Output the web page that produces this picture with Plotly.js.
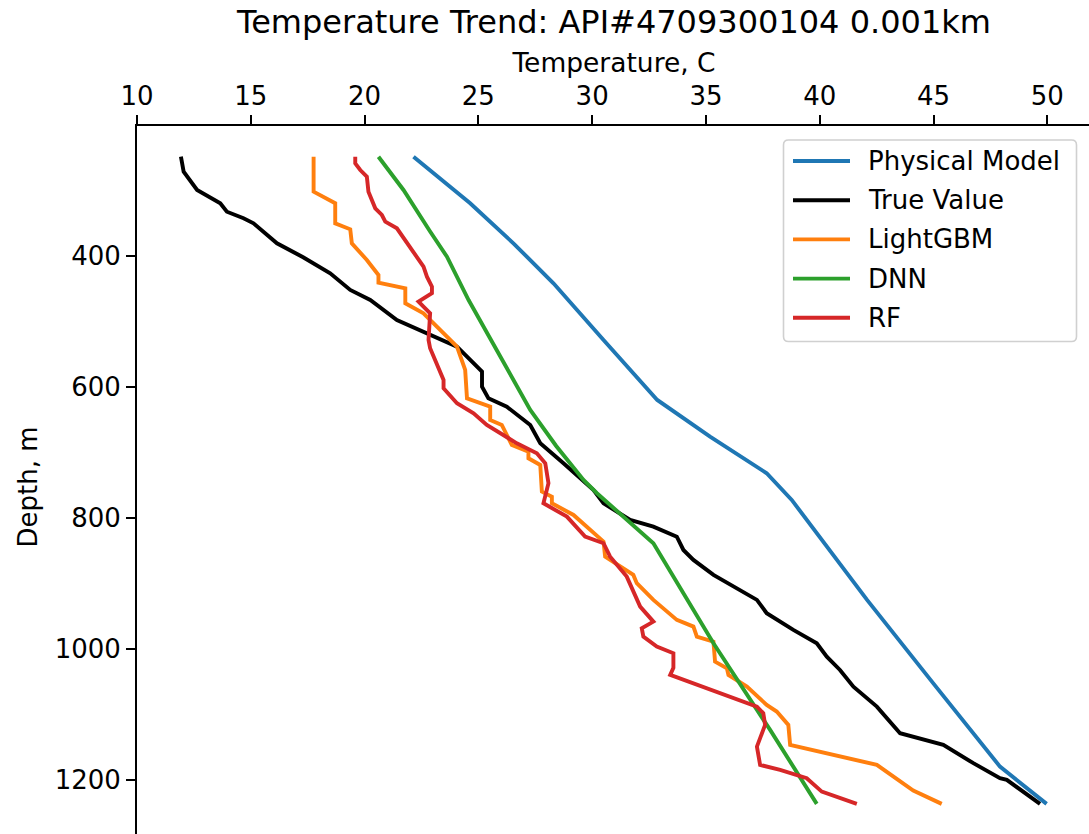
<!DOCTYPE html>
<html>
<head>
<meta charset="utf-8">
<script src="https://cdn.plot.ly/plotly-3.0.1.min.js"></script>
<style>
  html, body { margin: 0; padding: 0; overflow: hidden; background: #ffffff; }
  #chart { width: 1091px; height: 848px; }
</style>
</head>
<body>
<div id="chart"></div>
<script>
// Temperature (C) against depth (m) for each estimate along the well
const physicalTemp  = [22.15, 24.64, 26.54, 28.30, 30.50, 32.86, 35.18, 37.67, 38.77, 40.45, 42.08, 45.00, 47.92, 49.97];
const physicalDepth = [248.4, 319.5, 380.6, 441.7, 528.2, 619.8, 675.9, 731.8, 772.5, 848.9, 925.2, 1053.0, 1179.7, 1236.6];

const trueTemp  = [11.93, 12.05, 12.64, 13.66, 13.95, 14.68, 15.12, 16.15, 17.30, 18.49, 19.37, 20.25, 21.42, 22.74, 24.06,
                   25.16, 25.16, 25.44, 26.25, 27.28, 27.72, 28.74, 30.06, 30.50, 31.67, 32.69, 33.72, 34.01, 34.45,
                   35.33, 37.24, 37.67, 38.84, 39.87, 40.31, 40.89, 41.48, 42.51, 43.38, 43.53, 45.43, 46.75, 47.92,
                   48.22, 49.68];
const trueDepth = [248.4, 271.3, 299.2, 319.5, 332.4, 342.4, 350.1, 380.6, 402.0, 426.4, 451.9, 467.2, 497.7, 518.0, 538.5,
                   576.6, 599.5, 617.3, 630.1, 658.0, 686.0, 716.5, 757.3, 777.6, 803.1, 813.3, 828.6, 848.9, 864.1,
                   887.0, 925.2, 945.5, 971.0, 991.3, 1011.8, 1032.1, 1057.6, 1088.1, 1123.7, 1128.7, 1146.6, 1174.5, 1197.4,
                   1200.0, 1236.6];

const lgbmTemp  = [17.76, 17.76, 18.71, 18.71, 19.37, 19.44, 20.10, 20.61, 20.61, 21.79, 21.79, 22.59, 24.06, 24.42, 24.50,
                   25.52, 25.52, 26.03, 26.47, 27.20, 27.20, 27.72, 27.79, 28.23, 28.23, 29.18, 30.50, 30.57, 31.81,
                   31.96, 32.69, 33.72, 34.45, 34.60, 35.33, 35.40, 35.92, 35.99, 36.80, 37.67, 38.11, 38.62, 38.70,
                   42.51, 44.11, 45.36];
const lgbmDepth = [248.4, 301.8, 319.5, 350.1, 359.2, 380.6, 406.1, 429.0, 440.8, 449.3, 472.2, 487.5, 538.5, 574.0, 617.3,
                   630.1, 650.4, 658.0, 688.5, 698.8, 708.9, 719.1, 759.8, 767.5, 777.6, 795.4, 836.2, 859.1, 887.0,
                   899.7, 925.2, 955.7, 965.9, 981.2, 988.9, 1019.4, 1029.5, 1039.7, 1057.6, 1085.5, 1095.7, 1116.0, 1146.6,
                   1177.1, 1216.3, 1236.6];

const dnnTemp  = [20.61, 21.71, 22.88, 23.62, 24.57, 25.55, 27.28, 28.42, 29.62, 30.21, 31.67, 32.69, 35.33, 37.82, 39.87];
const dnnDepth = [248.4, 299.2, 362.6, 401.1, 467.2, 528.2, 635.1, 690.1, 742.0, 762.3, 808.1, 838.6, 991.3, 1123.7, 1236.6];

const rfTemp  = [19.59, 19.59, 19.81, 20.10, 20.17, 20.47, 20.76, 20.91, 21.42, 21.86, 22.59, 22.74, 22.96, 22.96, 22.37,
                 22.88, 22.81, 22.88, 23.47, 23.47, 24.06, 24.79, 25.37, 26.69, 27.57, 27.94, 28.08, 27.86, 28.89,
                 29.69, 30.50, 30.79, 31.52, 32.11, 32.69, 32.18, 32.25, 32.84, 33.57, 33.57, 33.43, 37.24, 37.52,
                 37.60, 37.24, 37.38, 38.26, 39.43, 40.09, 41.63];
const rfDepth = [248.4, 258.5, 268.7, 278.9, 301.8, 327.2, 337.4, 347.6, 357.7, 380.6, 416.3, 431.6, 446.9, 456.9, 469.8,
                 487.5, 528.2, 540.9, 589.3, 602.0, 624.9, 640.2, 658.0, 686.0, 701.2, 716.5, 747.0, 777.6, 798.0,
                 828.5, 838.6, 859.1, 889.6, 935.4, 958.3, 968.4, 981.2, 996.5, 1006.6, 1029.0, 1039.7, 1088.1, 1098.2,
                 1116.0, 1149.2, 1177.1, 1184.7, 1197.4, 1217.9, 1236.6];

const xTicks = [10, 15, 20, 25, 30, 35, 40, 45, 50];
const yTicks = [400, 600, 800, 1000, 1200];

const FONT = 'DejaVu Sans, sans-serif';
const LW = 3.9;

// figure geometry (px)
const W = 1091, H = 848;
const M = { l: 137, r: 0, t: 126, b: 0 };
const PW = W - M.l - M.r, PH = H - M.t - M.b;
const px2x = px => (px - M.l) / PW;
const py2y = py => 1 - (py - M.t) / PH;

function series(name, x, y, color) {
  return {
    type: 'scatter', mode: 'lines', name: name, x: x, y: y,
    line: { color: color, width: LW }, hoverinfo: 'skip', showlegend: false
  };
}

const traces = [
  series('Physical Model', physicalTemp, physicalDepth, '#1f77b4'),
  series('True Value', trueTemp, trueDepth, '#000000'),
  series('LightGBM', lgbmTemp, lgbmDepth, '#ff7f0e'),
  series('DNN', dnnTemp, dnnDepth, '#2ca02c'),
  series('RF', rfTemp, rfDepth, '#d62728')
];

// legend frame with rounded corners, drawn in paper coordinates
function roundedRect(x0, y0, x1, y1, r) {
  const P = (a, b) => px2x(a) + ',' + py2y(b);
  return 'M' + P(x0 + r, y0) + ' L' + P(x1 - r, y0) + ' Q' + P(x1, y0) + ' ' + P(x1, y0 + r) +
         ' L' + P(x1, y1 - r) + ' Q' + P(x1, y1) + ' ' + P(x1 - r, y1) +
         ' L' + P(x0 + r, y1) + ' Q' + P(x0, y1) + ' ' + P(x0, y1 - r) +
         ' L' + P(x0, y0 + r) + ' Q' + P(x0, y0) + ' ' + P(x0 + r, y0) + ' Z';
}

const legendBox = { x0: 783.5, y0: 140, x1: 1076.5, y1: 341.5 };
const legendRow0 = 161, legendRowStep = 39.2;
const shapes = [{
  type: 'path', xref: 'paper', yref: 'paper', layer: 'above',
  path: roundedRect(legendBox.x0, legendBox.y0, legendBox.x1, legendBox.y1, 5),
  fillcolor: 'rgba(255,255,255,0.8)', line: { color: '#d0d0d0', width: 1.6 }
}];
const annotations = [];
traces.forEach((t, i) => {
  const yy = legendRow0 + i * legendRowStep;
  shapes.push({
    type: 'line', xref: 'paper', yref: 'paper', layer: 'above',
    x0: px2x(793), x1: px2x(850), y0: py2y(yy), y1: py2y(yy),
    line: { color: t.line.color, width: LW }
  });
  annotations.push({
    xref: 'paper', yref: 'paper', x: px2x(866), y: py2y(yy),
    xanchor: 'left', yanchor: 'middle', showarrow: false,
    text: t.name, font: { family: FONT, size: 26, color: '#000000' }
  });
});

const axisCommon = {
  showgrid: false, zeroline: false,
  showline: true, linecolor: '#000000', linewidth: 2,
  ticks: 'outside', ticklen: 9, tickwidth: 2, tickcolor: '#000000',
  tickfont: { family: FONT, size: 26, color: '#000000' }
};

const layout = {
  width: W, height: H,
  margin: { l: M.l, r: M.r, t: M.t, b: M.b, pad: 0 },
  paper_bgcolor: '#ffffff', plot_bgcolor: '#ffffff',
  font: { family: FONT, color: '#000000' },
  title: {
    text: 'Temperature Trend: API#4709300104 0.001km',
    font: { family: FONT, size: 32, color: '#000000' },
    xref: 'paper', x: 0.5, xanchor: 'center',
    yref: 'container', y: 1 - 22 / H, yanchor: 'middle'
  },
  xaxis: Object.assign({}, axisCommon, {
    side: 'top', range: [10, 51.92],
    tickmode: 'array', tickvals: xTicks, ticktext: xTicks.map(String),
    title: { text: 'Temperature, C', font: { family: FONT, size: 26.5, color: '#000000' }, standoff: 0 }
  }),
  yaxis: Object.assign({}, axisCommon, {
    range: [1304, 201.5],
    tickmode: 'array', tickvals: yTicks, ticktext: yTicks.map(String),
    title: { text: 'Depth, m', font: { family: FONT, size: 26, color: '#000000' }, standoff: 10 }
  }),
  showlegend: false,
  shapes: shapes,
  annotations: annotations
};

Plotly.newPlot('chart', traces, layout, { displayModeBar: false, staticPlot: true });
</script>
</body>
</html>
